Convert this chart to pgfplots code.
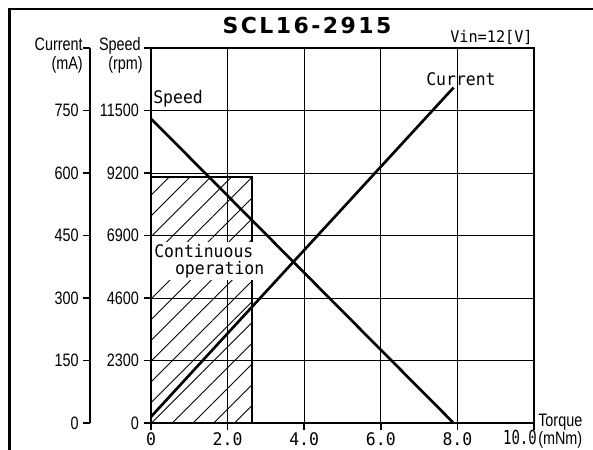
\documentclass[border=0pt]{standalone}
\usepackage{pgfplots}
\pgfplotsset{compat=1.18}
\usetikzlibrary{patterns.meta}
\usepackage{fontspec}
\setmainfont{DejaVu Sans Mono}
\newfontfamily\monofont{DejaVu Sans Mono}[FakeStretch=0.95]
\newfontfamily\narrowmono{DejaVu Sans Mono}[FakeStretch=0.72]
\newfontfamily\narrowfont{Liberation Sans}[FakeStretch=0.8]
\newfontfamily\titlefont{DejaVu Sans}[LetterSpace=11]
\begin{document}
\begin{tikzpicture}
\useasboundingbox (0,0) rectangle (444.75pt,-337.5pt);
% main axis (speed)
\begin{axis}[at={(113.25pt,-317.25pt)}, anchor=south west, scale only axis,
  width=287.25pt, height=281.25pt,
  xmin=0, xmax=10, ymin=0, ymax=13800,
  xtick={0,2,4,6,8,10}, xticklabels={0,2.0,4.0,6.0,8.0,{}},
  ytick={0,2300,4600,6900,9200,11500,13800},
  yticklabels={0,2300,4600,6900,9200,11500,{}},
  xtick pos=bottom, ytick pos=left, tick align=outside,
  major tick length=5.5pt,
  tick style={black, line width=1.2pt},
  grid=major, major grid style={black, line width=0.6pt},
  axis line style={line width=1.6pt},
  xticklabel style={font=\monofont\fontsize{13}{15}\selectfont, yshift=2pt},
  yticklabel style={font=\narrowfont\fontsize{13.5}{15}\selectfont},
  scaled ticks=false, clip=false]
\addplot[draw=black, line width=1.5pt, pattern={Lines[angle=45,distance=11pt,line width=0.7pt]}]
  coordinates {(0,0) (0,9050) (2.65,9050) (2.65,0)} \closedcycle;
\addplot[black, line width=2pt] coordinates {(0,11200) (7.9,0)};
\end{axis}
% current curve
\begin{axis}[at={(113.25pt,-317.25pt)}, anchor=south west, scale only axis,
  width=287.25pt, height=281.25pt,
  xmin=0, xmax=10, ymin=0, ymax=900, hide axis]
\addplot[black, line width=2pt] coordinates {(0,15) (7.9,805)};
\end{axis}
% current axis
\begin{axis}[at={(67.5pt,-317.25pt)}, anchor=south west, scale only axis,
  width=1pt, height=281.25pt,
  xmin=0, xmax=1, ymin=0, ymax=900,
  hide x axis, axis y line*=left, y axis line style={-, line width=1.6pt},
  ytick={0,150,300,450,600,750,900},
  yticklabels={0,150,300,450,600,750,{}},
  ytick pos=left, tick align=outside, major tick length=5pt,
  tick style={black, line width=1.2pt},
  yticklabel style={font=\narrowfont\fontsize{13.5}{15}\selectfont}]
\addplot[draw=none] coordinates {(0,0)};
\end{axis}
\begin{scope}[x=0.75pt,y=-0.75pt]
\draw[line width=2pt] (9.5,455) -- (9.5,9) -- (600,9);
\node[anchor=base, inner sep=0pt, font=\titlefont\bfseries\fontsize{16.5}{19}\selectfont] at (307,33) {SCL16-2915};
\node[anchor=base west, inner sep=0pt, font=\monofont\fontsize{12}{14}\selectfont] at (450,42) {Vin=12[V]};
\node[anchor=base east, inner sep=0pt, font=\narrowfont\fontsize{13.5}{15}\selectfont] at (83,50) {Current};
\node[anchor=base east, inner sep=0pt, font=\narrowfont\fontsize{13.5}{15}\selectfont] at (83,69) {(mA)};
\node[anchor=base east, inner sep=0pt, font=\narrowfont\fontsize{13.5}{15}\selectfont] at (141,50) {Speed};
\node[anchor=base east, inner sep=0pt, font=\narrowfont\fontsize{13.5}{15}\selectfont] at (143,69) {(rpm)};
\node[anchor=base west, inner sep=0pt, font=\monofont\fontsize{13}{15}\selectfont] at (153,103) {Speed};
\node[anchor=base west, inner sep=0pt, font=\monofont\fontsize{13}{15}\selectfont] at (426,85) {Current};
\node[anchor=north west, fill=white, inner sep=1.5pt, align=left, font=\monofont\fontsize{13}{12.75}\selectfont] at (152,242) {Continuous\\\hspace*{1.2em}operation};
\node[anchor=base west, inner sep=0pt, font=\narrowfont\fontsize{13.5}{15}\selectfont] at (538,426) {Torque};
\node[anchor=base east, inner sep=0pt, font=\narrowmono\fontsize{14.5}{16}\selectfont] at (537,444) {10.0};
\node[anchor=base west, inner sep=0pt, font=\narrowfont\fontsize{13.5}{15}\selectfont] at (538,444) {(mNm)};
\end{scope}
\end{tikzpicture}
\end{document}
